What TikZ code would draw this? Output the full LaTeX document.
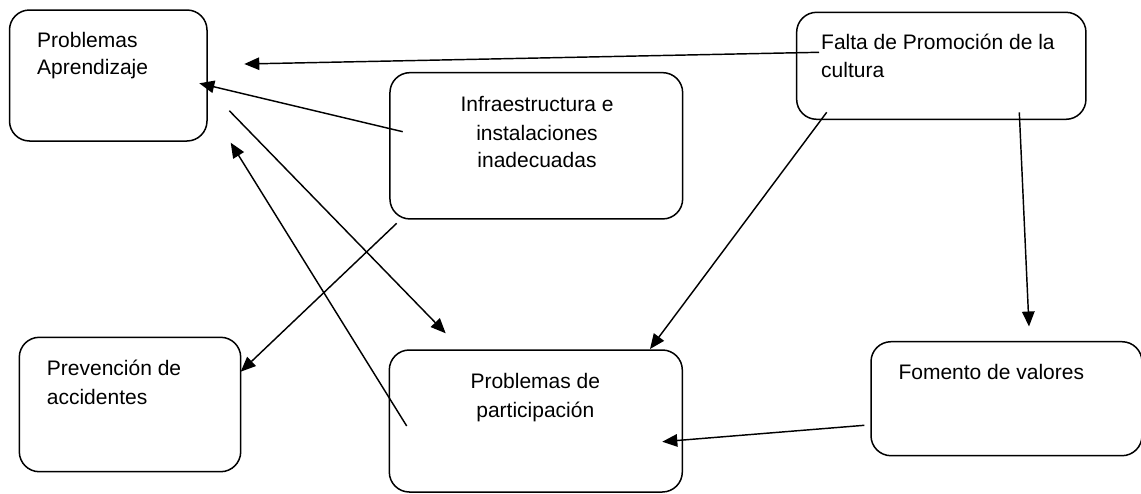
\documentclass[tikz,border=0pt]{standalone}
\usepackage{fontspec}
\setmainfont{Liberation Sans}
\usetikzlibrary{arrows.meta}
\begin{document}
\begin{tikzpicture}[x=1pt,y=-1pt,
  box/.style={draw, line width=1.5pt, rounded corners=20pt, inner sep=0pt},
  txt/.style={inner sep=0pt, font=\fontsize{21}{28}\selectfont},
  conn/.style={line width=1.45pt, -{Triangle[length=15pt,width=12.5pt]}}]
\useasboundingbox (0,0) rectangle (1141,493);
% boxes
\node[box, minimum width=197.5pt, minimum height=131pt] (b1) at (108.25,75.5) {};
\node[box, minimum width=292.7pt, minimum height=146.3pt] (b2) at (536.3,145.8) {};
\node[box, minimum width=289.3pt, minimum height=107pt] (b3) at (941.3,65.8) {};
\node[box, minimum width=221.4pt, minimum height=134.4pt] (b4) at (130,404.5) {};
\node[box, minimum width=293pt, minimum height=142pt] (b5) at (535.8,421) {};
\node[box, minimum width=271pt, minimum height=114pt] (b6) at (1006.5,398.7) {};
% texts
\node[txt, anchor=base west] (t1a) at (37,47) {Problemas};
\node[txt, anchor=base west] (t1b) at (37,74) {Aprendizaje};
\node[txt, anchor=base] (t2a) at (537,111.7) {Infraestructura e};
\node[txt, anchor=base] (t2b) at (537,140) {instalaciones};
\node[txt, anchor=base] (t2c) at (537,167) {inadecuadas};
\node[txt, anchor=base west] (t3a) at (821,49.3) {Falta de Promoción de la};
\node[txt, anchor=base west] (t3b) at (821,77.7) {cultura};
\node[txt, anchor=base west] (t4a) at (46.7,375.7) {Prevención de};
\node[txt, anchor=base west] (t4b) at (46.7,404) {accidentes};
\node[txt, anchor=base] (t5a) at (535.3,388.3) {Problemas de};
\node[txt, anchor=base] (t5b) at (535.3,417) {participación};
\node[txt, anchor=base west] (t6a) at (898.3,379) {Fomento de valores};
% connector end points
\coordinate (a1s) at (819,52.3);   \coordinate (a1e) at (244.3,64);
\coordinate (a2s) at (402.7,131.7); \coordinate (a2e) at (199.3,83.3);
\coordinate (a3s) at (229.3,110.7); \coordinate (a3e) at (445.7,333.3);
\coordinate (a4s) at (406.7,426);   \coordinate (a4e) at (230.7,142.7);
\coordinate (a5s) at (396.7,223.3); \coordinate (a5e) at (240.7,371.7);
\coordinate (a6s) at (826.7,112.3); \coordinate (a6e) at (650,349);
\coordinate (a7s) at (1019.3,112.3); \coordinate (a7e) at (1029,326.5);
\coordinate (a8s) at (864.3,425.3); \coordinate (a8e) at (662.3,441.7);
% connectors
\draw[conn] (a1s) -- (a1e);
\draw[conn] (a2s) -- (a2e);
\draw[conn] (a3s) -- (a3e);
\draw[conn] (a4s) -- (a4e);
\draw[conn] (a5s) -- (a5e);
\draw[conn] (a6s) -- (a6e);
\draw[conn] (a7s) -- (a7e);
\draw[conn] (a8s) -- (a8e);
\end{tikzpicture}
\end{document}
